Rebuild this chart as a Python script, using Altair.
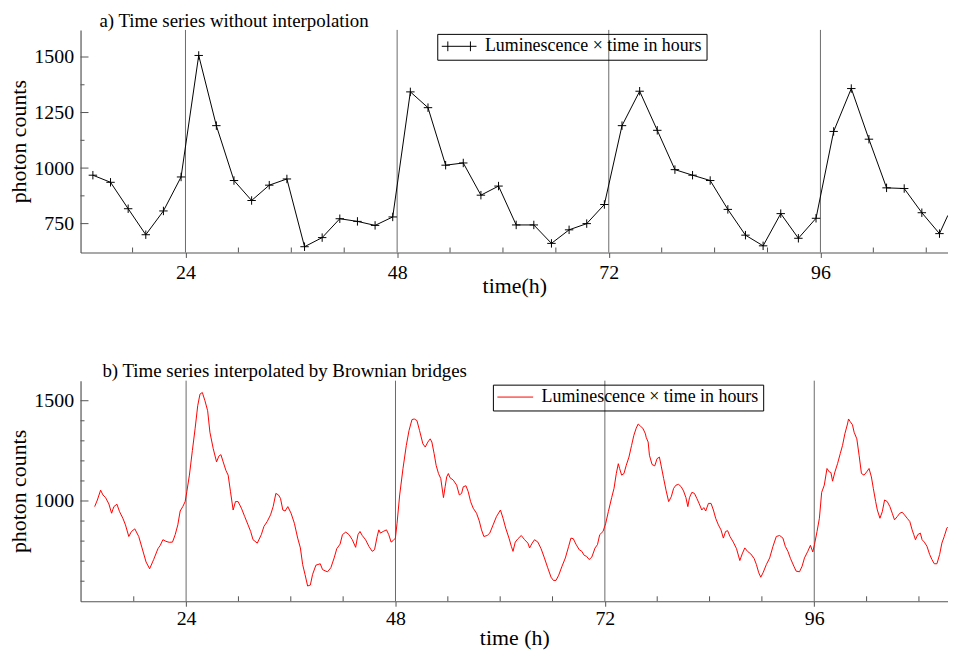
import altair as alt
import pandas as pd

FONT = "Liberation Serif"
AXIS_GRAY = "#555555"
GRID_GRAY = "#6a6a6a"
SERIES_LABEL = "Luminescence \u00d7 time in hours"

# day boundaries (labelled ticks + vertical guide lines) and 6-hour minor ticks
day_marks = [24, 48, 72, 96]
minor_hours = [18, 30, 36, 42, 54, 60, 66, 78, 84, 90, 102, 108]

# a) raw measurements, every 2 hours (visible part)
raw_hours = [13.5, 15.5, 17.5, 19.5, 21.5, 23.5, 25.5, 27.5, 29.5, 31.5,
             33.5, 35.5, 37.5, 39.5, 41.5, 43.5, 45.5, 47.5, 49.5, 51.5,
             53.5, 55.5, 57.5, 59.5, 61.5, 63.5, 65.5, 67.5, 69.5, 71.5,
             73.5, 75.5, 77.5, 79.5, 81.5, 83.5, 85.5, 87.5, 89.5, 91.5,
             93.5, 95.5, 97.5, 99.5, 101.5, 103.5, 105.5, 107.5, 109.5]
raw_counts = [968, 936, 817, 700, 807, 960, 1507, 1191, 944, 854,
              923, 951, 646, 687, 772, 760, 742, 780, 1343, 1272,
              1013, 1023, 878, 919, 744, 744, 661, 722, 750, 836,
              1191, 1346, 1170, 993, 968, 944, 814, 698, 650, 795,
              684, 774, 1165, 1358, 1130, 911, 908, 799, 705]
# where the connecting line leaves the right edge of the frame
raw_edge_hours = [110.45]
raw_edge_counts = [787]

# b) Brownian-bridge interpolated series, traced in three stretches
bridge_hours_1 = [13.52, 13.83, 14.20, 14.47, 14.77, 15.15, 15.46, 15.72, 16.07, 16.37,
                  16.75, 17.05, 17.43, 17.74, 18.12, 18.57, 18.95, 19.41, 19.82, 20.28,
                  20.77, 21.04, 21.34, 21.68, 22.06, 22.44, 22.75, 23.05, 23.32, 23.62,
                  23.89, 24.08, 24.38, 24.72, 25.03, 25.33, 25.59, 25.86, 26.16, 26.47,
                  26.73, 27.11, 27.49, 27.76, 27.99, 28.25, 28.56, 28.82, 29.09, 29.39,
                  29.66, 29.96, 30.34, 30.72, 31.10, 31.40, 31.67, 32.16, 32.62, 32.92,
                  33.30, 33.68, 33.98, 34.29, 34.59, 34.82, 35.09, 35.35, 35.66, 36.03,
                  36.41, 36.79, 37.10, 37.36, 37.63, 37.93, 38.24, 38.50, 38.88, 39.38,
                  39.64, 40.02, 40.21]
bridge_counts_1 = [972, 1005, 1054, 1030, 1017, 985, 939, 972, 984, 947,
                   914, 881, 823, 848, 861, 823, 766, 696, 662, 708,
                   762, 779, 807, 799, 794, 795, 832, 881, 950, 972,
                   997, 1046, 1129, 1252, 1360, 1475, 1533, 1541, 1500, 1450,
                   1343, 1261, 1195, 1224, 1231, 1195, 1153, 1129, 1046, 955,
                   997, 997, 964, 922, 881, 848, 807, 790, 832, 873,
                   898, 931, 972, 1038, 1030, 1013, 955, 950, 972, 939,
                   889, 815, 766, 683, 634, 576, 581, 634, 680, 687,
                   658, 650, 647]
bridge_hours_2 = [40.59, 40.97, 41.27, 41.65, 41.92, 42.30, 42.68, 43.05, 43.43, 43.70,
                  43.93, 44.19, 44.57, 44.95, 45.33, 45.60, 45.90, 46.09, 46.28, 46.59,
                  46.97, 47.23, 47.50, 47.72, 47.99, 48.18, 48.48, 48.86, 49.24, 49.55,
                  49.89, 50.15, 50.46, 50.76, 51.14, 51.41, 51.71, 51.98, 52.17, 52.43,
                  52.66, 52.93, 53.19, 53.50, 53.69, 53.87, 54.06, 54.25, 54.63, 55.01,
                  55.32, 55.58, 55.77, 56.08, 56.34, 56.61, 56.91, 57.29, 57.60, 57.86,
                  58.13, 58.51, 58.81, 59.19, 59.57, 60.03, 60.33, 60.63, 61.01, 61.28,
                  61.47, 61.73, 62.04, 62.42, 62.80, 63.18, 63.37, 63.67, 63.94, 64.32,
                  64.69, 65.07, 65.45, 65.83, 66.10, 66.40, 66.71, 67.09, 67.47, 67.85,
                  68.11, 68.38, 68.68, 69.06, 69.36, 69.63, 69.90, 70.20, 70.50, 70.88,
                  71.15, 71.41, 71.79, 72.10, 72.40, 72.78, 73.05, 73.31, 73.54, 73.69,
                  73.92, 74.19, 74.45, 74.76, 75.06, 75.32, 75.59, 75.82, 76.08, 76.35,
                  76.65]
bridge_counts_2 = [667, 716, 762, 785, 832, 845, 832, 807, 769, 832,
                   848, 828, 807, 774, 749, 757, 823, 856, 840, 848,
                   856, 832, 795, 802, 815, 889, 1030, 1162, 1277, 1351,
                   1406, 1409, 1401, 1351, 1285, 1269, 1294, 1310, 1294, 1236,
                   1178, 1137, 1112, 1017, 1071, 1120, 1137, 1116, 1104, 1079,
                   1030, 1038, 1071, 1076, 1046, 997, 964, 939, 901, 856,
                   823, 828, 840, 881, 922, 955, 914, 865, 815, 774,
                   749, 795, 812, 828, 807, 790, 766, 790, 807, 795,
                   762, 716, 667, 620, 604, 604, 630, 675, 716, 774,
                   815, 812, 785, 757, 749, 729, 724, 708, 720, 766,
                   782, 832, 848, 889, 947, 1017, 1063, 1137, 1186, 1162,
                   1129, 1137, 1178, 1219, 1277, 1327, 1363, 1384, 1373, 1363,
                   1335]
bridge_hours_3 = [76.73, 76.96, 77.11, 77.41, 77.72, 77.98, 78.25, 78.48, 78.74, 79.01,
                  79.31, 79.61, 79.88, 80.15, 80.45, 80.75, 81.02, 81.29, 81.51, 81.70,
                  81.97, 82.27, 82.54, 82.80, 83.11, 83.34, 83.56, 83.87, 84.17, 84.44,
                  84.70, 85.01, 85.31, 85.58, 85.84, 86.07, 86.34, 86.72, 87.09, 87.47,
                  87.74, 88.04, 88.35, 88.73, 89.11, 89.37, 89.64, 89.87, 90.13, 90.51,
                  90.89, 91.27, 91.65, 92.03, 92.41, 92.68, 92.98, 93.28, 93.66, 93.93,
                  94.31, 94.61, 94.88, 95.26, 95.56, 95.83, 96.02, 96.32, 96.59, 96.85,
                  97.15, 97.46, 97.72, 97.91, 98.10, 98.37, 98.67, 98.98, 99.24, 99.51,
                  99.81, 99.93, 100.12, 100.38, 100.57, 100.88, 101.14, 101.41, 101.71, 102.01,
                  102.28, 102.55, 102.77, 103.04, 103.23, 103.53, 103.80, 104.06, 104.37, 104.67,
                  104.94, 105.20, 105.51, 105.81, 106.08, 106.34, 106.65, 106.95, 107.22, 107.41,
                  107.60, 107.86, 108.16, 108.36, 108.62, 108.92, 109.23, 109.49, 109.76, 110.06,
                  110.37, 110.63, 110.90, 111.20, 111.30]
bridge_counts_3 = [1318, 1294, 1228, 1182, 1175, 1211, 1219, 1170, 1112, 1054,
                   997, 1021, 1063, 1079, 1083, 1071, 1050, 1017, 972, 1017,
                   1043, 1038, 1013, 988, 955, 967, 950, 988, 988, 955,
                   914, 881, 856, 815, 848, 852, 823, 795, 762, 703,
                   736, 766, 749, 736, 713, 683, 642, 620, 642, 683,
                   716, 774, 823, 828, 815, 774, 749, 713, 675, 650,
                   647, 675, 716, 749, 779, 746, 782, 848, 914, 1043,
                   1079, 1162, 1145, 1142, 1099, 1145, 1186, 1236, 1277, 1335,
                   1384, 1409, 1396, 1380, 1343, 1310, 1228, 1137, 1129, 1145,
                   1162, 1120, 1063, 997, 955, 914, 947, 1005, 997, 972,
                   939, 906, 922, 939, 944, 931, 914, 898, 856, 832,
                   807, 832, 840, 807, 795, 774, 733, 708, 687, 687,
                   733, 790, 823, 865, 870]

top_major_counts = [750, 1000, 1250, 1500]
top_minor_counts = [875, 1125, 1375]
bottom_major_counts = [1000, 1500]
bottom_minor_counts = [600, 700, 800, 900, 1100, 1200, 1300, 1400]

assert len(raw_hours) == len(raw_counts)
assert len(bridge_hours_1) == len(bridge_counts_1)
assert len(bridge_hours_2) == len(bridge_counts_2)
assert len(bridge_hours_3) == len(bridge_counts_3)

raw_points_df = pd.DataFrame({"hour": raw_hours, "count": raw_counts})
raw_line_df = pd.DataFrame({"hour": raw_hours + raw_edge_hours,
                            "count": raw_counts + raw_edge_counts,
                            "series": SERIES_LABEL})
bridge_df = pd.DataFrame({
    "hour": bridge_hours_1 + bridge_hours_2 + bridge_hours_3,
    "count": bridge_counts_1 + bridge_counts_2 + bridge_counts_3,
    "series": SERIES_LABEL,
})

PLOT_W = 873


def panel(df, points_df, title, title_dx, title_dy, x_domain, y_domain, height,
          y_major, y_minor, x_title, x_title_y, x_label_pad, color, symbol_type,
          symbol_size, legend_x):
    xs = alt.Scale(domain=x_domain, nice=False, zero=False)
    ys = alt.Scale(domain=y_domain, nice=False, zero=False)
    x_axis = alt.Axis(values=day_marks, format="d", title=x_title, tickSize=5,
                      tickColor=AXIS_GRAY, labelPadding=x_label_pad, titleY=x_title_y,
                      titleBaseline="alphabetic")
    y_axis = alt.Axis(values=y_major, format="d", ticks=False, title="photon counts",
                      labelPadding=7, titlePadding=3)
    x_enc = alt.X("hour:Q", scale=xs, axis=x_axis)
    y_enc = alt.Y("count:Q", scale=ys, axis=y_axis)

    grid = alt.Chart(pd.DataFrame({"hour": day_marks})).mark_rule(
        color=GRID_GRAY, strokeWidth=1).encode(x=x_enc)
    xminor = alt.Chart(pd.DataFrame({"hour": minor_hours})).mark_rule(
        color=AXIS_GRAY, strokeWidth=1).encode(
        x=x_enc, y=alt.value(height), y2=alt.value(height - 5))
    ymajor = alt.Chart(pd.DataFrame({"count": y_major})).mark_rule(
        color=AXIS_GRAY, strokeWidth=1).encode(
        y=y_enc, x=alt.value(0), x2=alt.value(8))
    yminor = alt.Chart(pd.DataFrame({"count": y_minor})).mark_rule(
        color=AXIS_GRAY, strokeWidth=1).encode(
        y=y_enc, x=alt.value(0), x2=alt.value(4))

    legend = alt.Legend(orient="none", legendX=legend_x, legendY=4,
                        strokeColor="black", padding=4, labelFont=FONT,
                        labelFontSize=18, labelColor="black", labelOffset=8,
                        labelLimit=500,
                        symbolType=symbol_type, symbolSize=symbol_size,
                        symbolStrokeWidth=1, symbolStrokeColor=color,
                        clipHeight=17)
    line = alt.Chart(df).mark_line(strokeWidth=1, clip=True).encode(
        x=x_enc, y=y_enc,
        color=alt.Color("series:N", scale=alt.Scale(range=[color]),
                        legend=legend, title=None))
    layers = [grid, xminor, ymajor, yminor, line]
    if points_df is not None:
        pts = alt.Chart(points_df).mark_point(
            shape="M-1,0L1,0M0,-1L0,1", size=72, filled=False, color=color,
            strokeWidth=1, opacity=1).encode(x=x_enc, y=y_enc)
        layers.append(pts)
    return alt.layer(*layers).properties(
        width=PLOT_W, height=height,
        title=alt.TitleParams(title, anchor="start", frame="group", dx=title_dx,
                              dy=title_dy, offset=5, baseline="alphabetic", font=FONT,
                              fontSize=19, fontWeight="normal", color="black"))


top = panel(raw_line_df, raw_points_df, "a) Time series without interpolation", 19, 22,
            [12.1, 12.1 + PLOT_W / 8.875], [620, 1622], 224,
            top_major_counts, top_minor_counts, "time(h)", 40, 5, "black",
            "M-1,0L1,0M-0.65,-0.28L-0.65,0.28M0.65,-0.28L0.65,0.28", 1225, 359)
bottom = panel(bridge_df, None, "b) Time series interpolated by Brownian bridges", 22, 21,
               [11.9, 11.9 + PLOT_W / 8.78], [500, 1600], 222,
               bottom_major_counts, bottom_minor_counts, "time (h)", 44, 2, "#ff0000",
               "stroke", 1296, 415)

chart = alt.vconcat(top, bottom, spacing=66).resolve_scale(
    color="independent"
).properties(
    padding={"left": 0, "top": 2, "right": 0, "bottom": 0}
).configure_view(stroke=None).configure_axis(
    domainColor=AXIS_GRAY, domainWidth=1.2, grid=False,
    labelFont=FONT, labelFontSize=20, labelColor="black",
    titleFont=FONT, titleFontSize=22, titleFontWeight="normal", titleColor="black",
)

chart.save("out.html", embed_options={"renderer": "svg", "actions": False})
